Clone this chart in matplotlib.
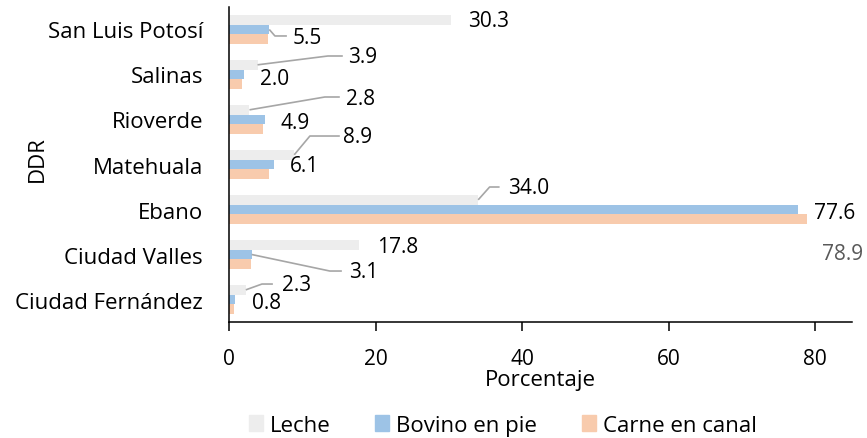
import matplotlib
matplotlib.use("Agg")
import matplotlib.pyplot as plt
import matplotlib.patches as mpatches
import numpy as np

plt.rcParams["font.family"] = ["Open Sans", "DejaVu Sans"]

# ── Data ──────────────────────────────────────────────────────────────────────
ddr = ["Ciudad Fernández", "Ciudad Valles", "Ebano", "Matehuala",
       "Rioverde", "Salinas", "San Luis Potosí"]
leche = [2.3, 17.8, 34.0, 8.9, 2.8, 3.9, 30.3]
bovino = [0.8, 3.1, 77.6, 6.1, 4.9, 2.0, 5.5]
carne = [0.7, 3.0, 78.9, 5.4, 4.7, 1.8, 5.3]
series_names = ["Leche", "Bovino en pie", "Carne en canal"]
x_ticks = [0, 20, 40, 60, 80]

# ── Style ─────────────────────────────────────────────────────────────────────
C_LECHE = "#ededed"
C_BOV = "#9dc3e6"
C_CARNE = "#f8cbad"
C_LEAD = "#a6a6a6"
FS_NUM = 15      # data labels + tick numbers
FS_TXT = 16      # category names, axis titles, legend
BAR_H = 0.21
OFF = 0.215

# label layout: (series, category index, text x, text y, leader elbow or None)
# elbow = (x, y, end_x) in data units
label_layout = [
    ("leche", 6, 32.56, 6.19, None),
    ("bovino", 6, 8.72, 5.833, (6.27, 5.856, 7.9)),
    ("leche", 5, 16.21, 5.389, (13.49, 5.411, 15.53)),
    ("bovino", 5, 4.22, 4.922, None),
    ("leche", 4, 15.94, 4.456, (13.08, 4.5, 15.12)),
    ("bovino", 4, 7.08, 3.944, None),
    ("leche", 3, 15.53, 3.633, (11.04, 3.633, 15.12)),
    ("bovino", 3, 8.31, 2.967, None),
    ("leche", 2, 38.01, 2.5, (35.56, 2.5, 36.92)),
    ("bovino", 2, 79.84, 1.944, None),
    ("carne", 2, 80.93, 1.033, None),
    ("leche", 1, 20.16, 1.167, None),
    ("bovino", 1, 16.35, 0.633, (13.76, 0.633, 15.4)),
    ("leche", 0, 7.22, 0.344, (4.5, 0.344, 5.99)),
    ("bovino", 0, 3.13, -0.056, None),
]

values = {"leche": leche, "bovino": bovino, "carne": carne}
offsets = {"leche": OFF, "bovino": 0.0, "carne": -OFF}

fig = plt.figure(figsize=(8.67, 4.39), dpi=100)
ax = fig.add_axes([0.2641, 0.2642, 0.9827 - 0.2641, 0.9818 - 0.2642])

y = np.arange(len(ddr))
ax.barh(y + OFF, leche, height=BAR_H, color=C_LECHE, label=series_names[0])
ax.barh(y, bovino, height=BAR_H, color=C_BOV, label=series_names[1])
ax.barh(y - OFF, carne, height=BAR_H, color=C_CARNE, label=series_names[2])

for key, i, tx, ty, lead in label_layout:
    v = values[key][i]
    color = "#595959" if key == "carne" else "black"
    ax.text(tx, ty, f"{v:.1f}", ha="left", va="center", fontsize=FS_NUM,
            color=color)
    if lead is not None:
        ex, ey, endx = lead
        ax.plot([v, ex, endx], [i + offsets[key], ey, ey], color=C_LEAD,
                lw=1.2, solid_capstyle="butt", clip_on=False)

ax.set_xlim(0, 85)
ax.set_ylim(-0.5, len(ddr) - 0.5)
ax.set_xticks(x_ticks)
ax.set_xticklabels([str(t) for t in x_ticks], fontsize=FS_NUM)
ax.set_yticks(y)
ax.set_yticklabels(ddr, fontsize=FS_TXT)
ax.tick_params(axis="y", length=0, pad=18.7)
ax.tick_params(axis="x", length=6.5, width=1.1, pad=12, direction="out")

for s in ("top", "right"):
    ax.spines[s].set_visible(False)
for s in ("left", "bottom"):
    ax.spines[s].set_linewidth(1.1)
    ax.spines[s].set_color("black")

ax.set_xlabel("Porcentaje", fontsize=FS_TXT, labelpad=0.5)
ax.set_ylabel("DDR", fontsize=FS_TXT)
ax.yaxis.set_label_coords(-0.29, 0.52)

handles = [mpatches.Patch(color=c, label=n)
           for c, n in zip([C_LECHE, C_BOV, C_CARNE], series_names)]
fig.legend(handles=handles, loc="center", bbox_to_anchor=(0.58, 0.029),
           ncol=3, frameon=False, fontsize=FS_TXT, handlelength=0.63,
           handleheight=0.68, handletextpad=0.32, columnspacing=2.0,
           borderpad=0)

fig.savefig("out.png", dpi=100)
